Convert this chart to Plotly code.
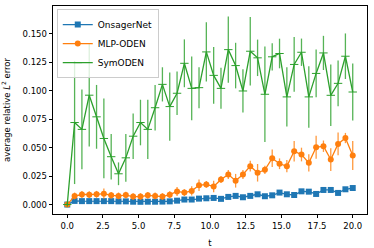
import plotly.graph_objects as go

n_points = 40
t = [round(20 * i / (n_points - 1), 4) for i in range(n_points)]

onsager = [0, .0032, .003, .003, .003, .003, .003, .0028, .0028, .0025,
           .0024, .0025, .0025, .0026, .0028, .0034, .0044, .0044, .0052, .0055,
           .0058, .005, .0067, .0076, .0064, .0076, .009, .0073, .0081, .0105,
           .009, .0084, .0116, .0113, .0093, .0128, .0128, .0102, .0134, .0145]
onsager_err = [0.0007] * n_points

mlp = [0, .0075, .0088, .0087, .009, .0095, .0081, .0076, .0083, .007,
       .007, .0081, .0076, .007, .0087, .0115, .0105, .012, .0169, .0177,
       .0158, .022, .0264, .0209, .0264, .0337, .0279, .0305, .0407, .0358,
       .0337, .0468, .0439, .0366, .0503, .0512, .0395, .0532, .0584, .043]
mlp_err = [.001, .003, .003, .003, .003, .0045, .003, .003, .003, .003,
           .003, .003, .003, .003, .003, .004, .003, .004, .005, .003,
           .005, .003, .004, .006, .004, .0047, .0077, .0036, .0077, .0047,
           .0054, .009, .006, .0075, .01, .005, .01, .01, .0045, .0127]

sym = [0, .072, .066, .096, .077, .058, .042, .027, .041, .060,
       .072, .066, .085, .1055, .086, .0977, .124, .102, .1026, .134,
       .1134, .102, .136, .122, .0997, .1346, .1288, .0968, .1297, .1326,
       .0945, .123, .1337, .0945, .1151, .1331, .0959, .1064, .1302, .0988]
sym_err = [.002, .054, .035, .045, .028, .035, .02, .01, .021, .02,
           .02, .026, .02, .015, .03, .019, .021, .028, .018, .026,
           .025, .018, .029, .02, .019, .030, .016, .042, .012, .013,
           .026, .024, .012, .027, .021, .015, .027, .02, .02, .025]

names = ["OnsagerNet", "MLP-ODEN", "SymODEN"]
colors = ["#1f77b4", "#ff7f0e", "#2ca02c"]
err_colors = ["rgba(31,119,180,0.8)", "rgba(255,127,14,0.8)", "rgba(44,160,44,0.8)"]
symbols = ["square", "circle", "line-ew"]
series = [(onsager, onsager_err), (mlp, mlp_err), (sym, sym_err)]

fig = go.Figure()
for (vals, errs), name, c, ec, sym_ in zip(series, names, colors, err_colors, symbols):
    fig.add_trace(go.Scatter(
        x=t, y=vals, name=name, mode="lines+markers",
        line=dict(color=c, width=1.3),
        marker=dict(symbol=sym_, size=6,
                    color=c, line=dict(color=c, width=1 if sym_ == "line-ew" else 0)),
        error_y=dict(type="data", array=errs, visible=True, color=ec,
                     thickness=1.3, width=0),
    ))

font = "DejaVu Sans"
fig.update_layout(
    width=374, height=248,
    margin=dict(l=53, r=7, t=6, b=34),
    paper_bgcolor="white", plot_bgcolor="white",
    font=dict(family=font, size=8.5, color="black"),
    showlegend=True,
    legend=dict(x=0.012, y=0.985, xanchor="left", yanchor="top",
                bgcolor="rgba(255,255,255,0.8)", bordercolor="#cccccc", borderwidth=1,
                font=dict(size=9), itemwidth=30, tracegroupgap=0),
)
fig.update_xaxes(
    automargin=False,
    range=[-1, 21], tickmode="linear", tick0=0, dtick=2.5, tickformat=".1f",
    showgrid=False, zeroline=False, showline=True, linecolor="black", linewidth=0.8,
    mirror=True, ticks="outside", ticklen=3.5, tickcolor="black", tickwidth=0.8,
    title=dict(text="t", font=dict(size=8.5)),
)
fig.update_yaxes(
    automargin=False,
    range=[-0.0083, 0.1743], tickmode="linear", tick0=0, dtick=0.025, tickformat=".3f",
    showgrid=False, zeroline=False, showline=True, linecolor="black", linewidth=0.8,
    mirror=True, ticks="outside", ticklen=3.5, tickcolor="black", tickwidth=0.8,
    title=dict(text="average relative <i>L</i><sup>2</sup> error", font=dict(size=8.5)),
)
fig.write_html("out.html", config={"displayModeBar": False},
               post_script="document.body.style.margin='0';document.body.style.padding='0';")
